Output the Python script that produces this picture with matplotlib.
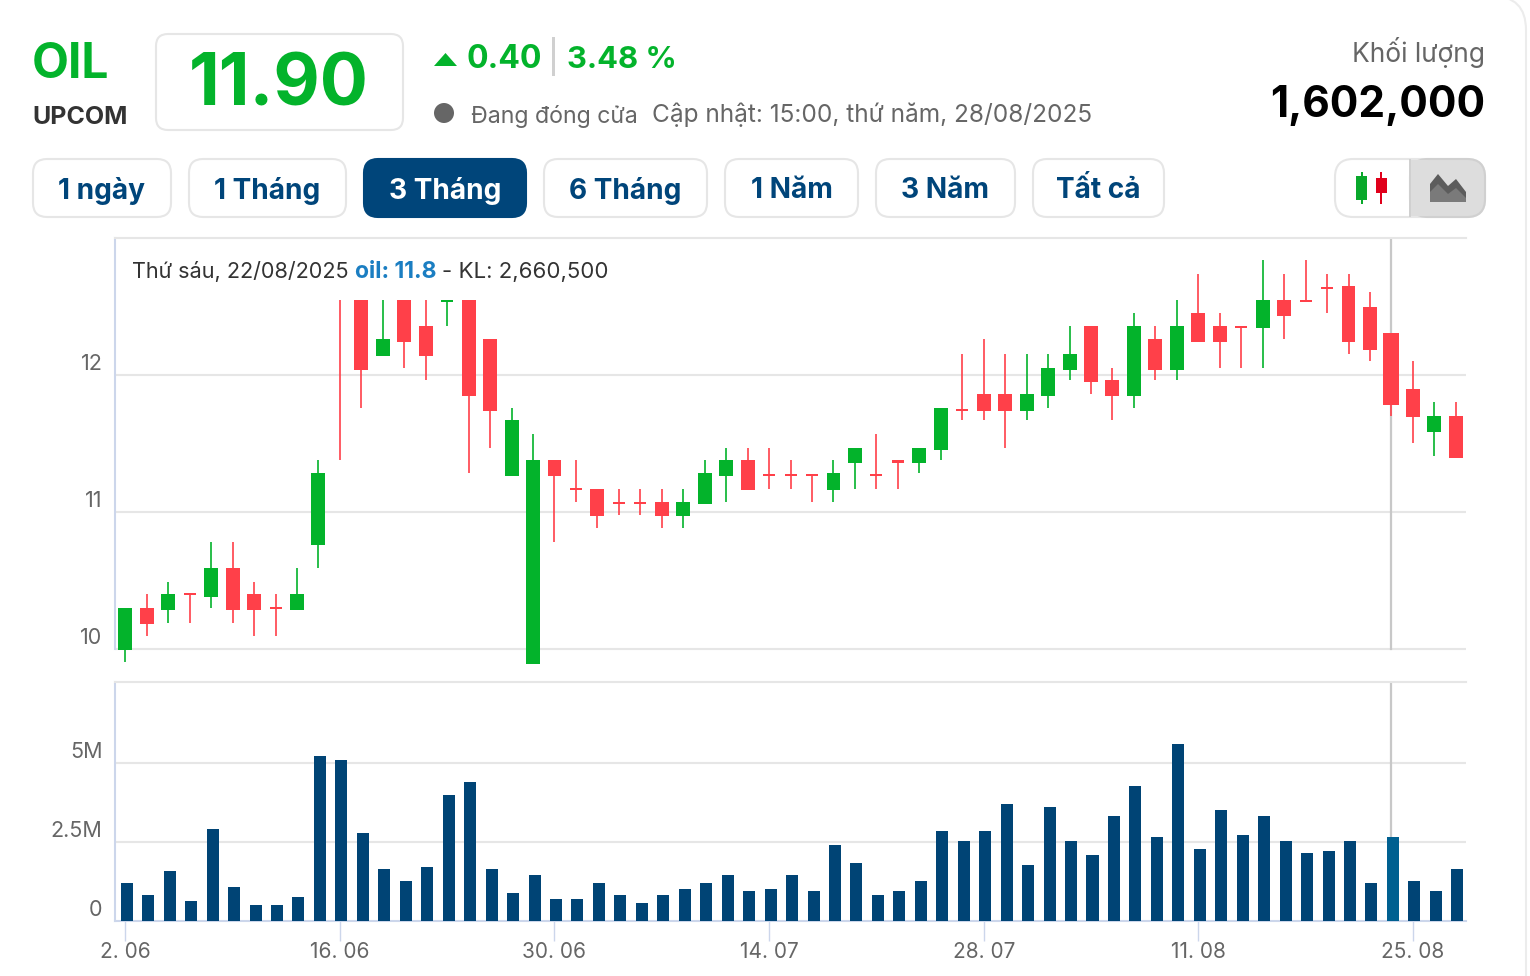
import matplotlib
matplotlib.use("Agg")
import matplotlib.pyplot as plt
from matplotlib.patches import FancyBboxPatch, Rectangle, Polygon, Circle
from matplotlib.transforms import ScaledTranslation

plt.rcParams['font.family'] = ['Inter', 'DejaVu Sans']

# gia doc tu hinh, cac nen bi o tooltip che mat thi phan tren la uoc luong
opens = [9.99, 10.30, 10.28, 10.40, 10.38, 10.59, 10.40, 10.30, 10.28, 10.76,
         12.80, 12.70, 12.14, 12.70, 12.36, 12.53, 12.70, 12.26, 11.26, 9.89,
         11.38, 11.17, 11.17, 11.07, 11.07, 11.07, 10.97, 11.06, 11.26, 11.38,
         11.27, 11.27, 11.27, 11.16, 11.36, 11.27, 11.37, 11.36, 11.45, 11.75,
         11.86, 11.86, 11.74, 11.85, 12.04, 12.36, 11.96, 11.85, 12.26, 12.04,
         12.45, 12.36, 12.35, 12.34, 12.55, 12.54, 12.64, 12.65, 12.50, 12.31,
         11.90, 11.58, 11.70]
closes = [10.30, 10.18, 10.40, 10.39, 10.59, 10.28, 10.28, 10.29, 10.40, 11.28,
          12.70, 12.04, 12.26, 12.24, 12.14, 12.54, 11.85, 11.74, 11.67, 11.38,
          11.26, 11.16, 10.97, 11.06, 11.06, 10.97, 11.07, 11.28, 11.38, 11.16,
          11.26, 11.26, 11.26, 11.28, 11.47, 11.26, 11.36, 11.47, 11.76, 11.74,
          11.74, 11.74, 11.86, 12.05, 12.15, 11.95, 11.85, 12.36, 12.04, 12.36,
          12.24, 12.24, 12.34, 12.55, 12.43, 12.53, 12.63, 12.24, 12.18, 11.78,
          11.69, 11.70, 11.39]
highs = [10.30, 10.40, 10.49, 10.40, 10.78, 10.78, 10.49, 10.40, 10.59, 11.38,
         12.90, 12.80, 12.60, 12.80, 12.60, 12.54, 12.80, 12.26, 11.76, 11.57,
         11.38, 11.38, 11.17, 11.17, 11.17, 11.17, 11.17, 11.38, 11.47, 11.47,
         11.47, 11.38, 11.27, 11.38, 11.47, 11.57, 11.37, 11.47, 11.76, 12.15,
         12.26, 12.15, 12.15, 12.15, 12.36, 12.36, 12.05, 12.45, 12.36, 12.55,
         12.74, 12.45, 12.35, 12.84, 12.74, 12.84, 12.74, 12.74, 12.61, 12.31,
         12.10, 11.80, 11.80]
lows = [9.90, 10.09, 10.19, 10.19, 10.30, 10.19, 10.09, 10.09, 10.28, 10.59,
        11.38, 11.76, 12.14, 12.05, 11.96, 12.36, 11.28, 11.47, 11.26, 9.89,
        10.78, 11.07, 10.88, 10.98, 10.98, 10.88, 10.88, 11.06, 11.07, 11.16,
        11.17, 11.17, 11.07, 11.07, 11.17, 11.17, 11.17, 11.28, 11.38, 11.67,
        11.67, 11.47, 11.67, 11.76, 11.96, 11.86, 11.67, 11.76, 11.96, 11.96,
        12.24, 12.05, 12.05, 12.05, 12.26, 12.53, 12.45, 12.15, 12.10, 11.70,
        11.50, 11.41, 11.39]
volumes = [1.21, 0.83, 1.59, 0.64, 2.92, 1.08, 0.51, 0.51, 0.76, 5.21,
           5.08, 2.80, 1.65, 1.27, 1.72, 4.00, 4.39, 1.65, 0.89, 1.46,
           0.70, 0.70, 1.21, 0.83, 0.57, 0.83, 1.02, 1.21, 1.46, 0.95,
           1.02, 1.46, 0.95, 2.42, 1.84, 0.83, 0.95, 1.27, 2.86, 2.54,
           2.86, 3.69, 1.78, 3.62, 2.54, 2.10, 3.31, 4.26, 2.67, 5.59,
           2.29, 3.50, 2.73, 3.31, 2.54, 2.16, 2.22, 2.54, 1.21, 2.66,
           1.27, 0.95, 1.65]
date_ticks = [0, 10, 20, 30, 40, 50, 60]
date_labels = ['2. 06', '16. 06', '30. 06', '14. 07', '28. 07', '11. 08', '25. 08']
price_ticks = [10, 11, 12]
volume_ticks = [0, 2.5, 5]
volume_labels = ['0', '2.5M', '5M']
selected = 59

tabs = ['1 ngày', '1 Tháng', '3 Tháng', '6 Tháng', '1 Năm', '3 Năm', 'Tất cả']
tab_left = [33, 189, 364, 544, 725, 876, 1033]
tab_right = [171, 346, 526, 707, 858, 1015, 1164]

GREEN = '#03b32b'
RED = '#ff4049'
NAVY = '#00457a'
GRID = '#e6e6e6'
AXIS = '#ccd6eb'
GREY = '#666666'

W, H = 1530, 976
fig = plt.figure(figsize=(W / 100, H / 100), dpi=100, facecolor='white')


def make_axes(left, top, right, bottom):
    return fig.add_axes([left / W, 1 - bottom / H, (right - left) / W, (bottom - top) / H])


def lift_labels(ax, px):
    for label in ax.get_yticklabels():
        label.set_transform(label.get_transform() + ScaledTranslation(0, px / 100, fig.dpi_scale_trans))


# truc x: nen dau o 125.3 px, moi nen 21.46 px
xlim = ((115 - 125.3) / 21.46, (1466 - 125.3) / 21.46)
x = list(range(len(closes)))

ax1 = make_axes(115, 238, 1466, 665)
ax2 = make_axes(115, 682, 1466, 921)

# nen
ax1.set_xlim(xlim)
ax1.set_ylim(12 - (665 - 375) / 136.8, 12 + (375 - 238) / 136.8)
for v in price_ticks:
    ax1.plot(xlim, [v, v], color=GRID, lw=1.5, zorder=1)
ax1.plot([selected, selected], [10, 13], color='#c8c8c8', lw=1.6, zorder=2)
for i in x:
    color = GREEN if closes[i] >= opens[i] else RED
    body = abs(closes[i] - opens[i])
    width = 0.65
    if body < 0.02:
        width = 0.56
    if i == selected:
        width = 0.75
    ax1.vlines(i, lows[i], highs[i], color=color, lw=1.2, zorder=3)
    ax1.bar(i, max(body, 0.015), bottom=min(opens[i], closes[i]), width=width,
            color=color, linewidth=0, zorder=4)
ax1.set_xticks([])
ax1.set_yticks(price_ticks)
ax1.set_yticklabels([str(v) for v in price_ticks], fontsize=15.5, color=GREY, va='bottom')
ax1.tick_params(axis='y', length=0, pad=9)
lift_labels(ax1, 1)
for s in ['right', 'bottom']:
    ax1.spines[s].set_visible(False)
ax1.spines['top'].set_color(GRID)
ax1.spines['top'].set_linewidth(1.5)
ax1.spines['left'].set_color(AXIS)
ax1.spines['left'].set_linewidth(1.5)
ax1.spines['left'].set_bounds(10, 13)

# khoi luong, cot lech nhe sang phai so voi nen
ax2.set_xlim(xlim)
ax2.set_ylim(0, (921 - 682) / 31.6)
for v in volume_ticks[1:]:
    ax2.plot(xlim, [v, v], color=GRID, lw=1.5, zorder=1)
ax2.plot([selected, selected], ax2.get_ylim(), color='#c8c8c8', lw=1.6, zorder=2)
bar_colors = ['#006090' if i == selected else '#004475' for i in x]
ax2.bar([i + 0.07 for i in x], volumes, width=0.56, color=bar_colors, linewidth=0, zorder=3)
ax2.set_xticks(date_ticks)
ax2.set_xticklabels(date_labels, fontsize=15, color=GREY)
ax2.set_yticks(volume_ticks)
ax2.set_yticklabels(volume_labels, fontsize=15.5, color=GREY, va='bottom')
ax2.tick_params(axis='y', length=0, pad=9)
ax2.tick_params(axis='x', length=14.4, width=1, color=AXIS, pad=1)
lift_labels(ax2, 1)
ax2.spines['right'].set_visible(False)
ax2.spines['top'].set_color(GRID)
ax2.spines['top'].set_linewidth(1.5)
ax2.spines['left'].set_color(AXIS)
ax2.spines['left'].set_linewidth(1.5)
ax2.spines['bottom'].set_color(AXIS)
ax2.spines['bottom'].set_linewidth(1.5)

# lop phu toa do pixel cho phan dau trang va tooltip
top = fig.add_axes([0, 0, 1, 1], zorder=10)
top.set_xlim(0, W)
top.set_ylim(H, 0)
top.axis('off')


def box(x0, y0, x1, y1, r=12, fc='white', ec=GRID, lw=1.5, z=2):
    p = FancyBboxPatch((x0 + r, y0 + r), x1 - x0 - 2 * r, y1 - y0 - 2 * r,
                       boxstyle=f'round,pad={r},rounding_size={r}', fc=fc, ec=ec, lw=lw, zorder=z)
    top.add_patch(p)


def txt(px, py, s, size, color, weight='normal', ha='left'):
    top.text(px, py, s, fontsize=size, color=color, fontweight=weight, ha=ha, va='center', zorder=5)


# vien the ngoai
box(-60, -4, 1526, 1100, r=34, fc='none', ec='#ececec', z=1)

txt(32, 65, 'OIL', 34.5, GREEN, 'bold')
txt(32, 118, 'UPCOM', 18, '#333333', 'bold')
box(156, 34, 403, 130)
txt(279, 86, '11.90', 51.5, GREEN, 'bold', ha='center')
top.add_patch(Polygon([[434, 66], [457, 66], [445.5, 53]], closed=True, fc=GREEN, ec='none'))
txt(467, 60, '0.40', 23, GREEN, 'bold')
top.add_patch(Rectangle((552, 37), 3, 39, fc='#d0d0d0', ec='none'))
txt(567, 60, '3.48 %', 22.3, GREEN, 'bold')
top.add_patch(Circle((444, 113), 10, fc=GREY, ec='none'))
txt(471, 116, 'Đang đóng cửa', 16.7, GREY)
txt(652, 115, 'Cập nhật: 15:00, thứ năm, 28/08/2025', 17.55, GREY)
txt(1485, 53, 'Khối lượng', 19, GREY, ha='right')
txt(1485, 106, '1,602,000', 30.5, 'black', 'bold', ha='right')

for i, name in enumerate(tabs):
    active = name == '3 Tháng'
    box(tab_left[i], 159, tab_right[i], 217, r=14, fc=NAVY if active else 'white', ec=NAVY if active else GRID)
    txt((tab_left[i] + tab_right[i]) / 2, 191, name, 20.2, 'white' if active else NAVY, 'bold', ha='center')

# nut chuyen bieu do
box(1335, 159, 1485, 217, r=18)
box(1410, 159, 1485, 217, r=18, fc='#dddddd', ec='#d0d0d0')
top.add_patch(Rectangle((1410, 160), 18, 56, fc='#dddddd', ec='none', zorder=3))
top.add_patch(Rectangle((1409, 159), 2, 58, fc='#d0d0d0', ec='none', zorder=3))
top.add_patch(Rectangle((1361, 172), 2, 32, fc='#09a82b', ec='none', zorder=3))
top.add_patch(Rectangle((1356, 176), 11, 24, fc='#09a82b', ec='none', zorder=3))
top.add_patch(Rectangle((1380, 172), 2, 32, fc='#e0001b', ec='none', zorder=3))
top.add_patch(Rectangle((1376, 178), 11, 15, fc='#e0001b', ec='none', zorder=3))
top.add_patch(Polygon([[1430, 202], [1430, 184], [1438, 174], [1448, 186], [1456, 179], [1466, 192], [1466, 202]],
                      closed=True, fc='#5c5c5c', ec='none', zorder=3))
top.add_patch(Polygon([[1430, 202], [1430, 192], [1438, 184], [1448, 194], [1456, 188], [1466, 198], [1466, 202]],
                      closed=True, fc='#7a7a7a', ec='none', zorder=3))

# tooltip che phan tren cua nen
top.add_patch(Rectangle((117, 240), 495, 60, fc='white', ec='none', zorder=2))
txt(132, 272, 'Thứ sáu, 22/08/2025', 15.6, '#333333')
txt(355, 272, 'oil: 11.8', 16.5, '#1b7ec2', 'bold')
txt(442, 272, '- KL: 2,660,500', 16, '#333333')

fig.savefig('out.png', dpi=100)
